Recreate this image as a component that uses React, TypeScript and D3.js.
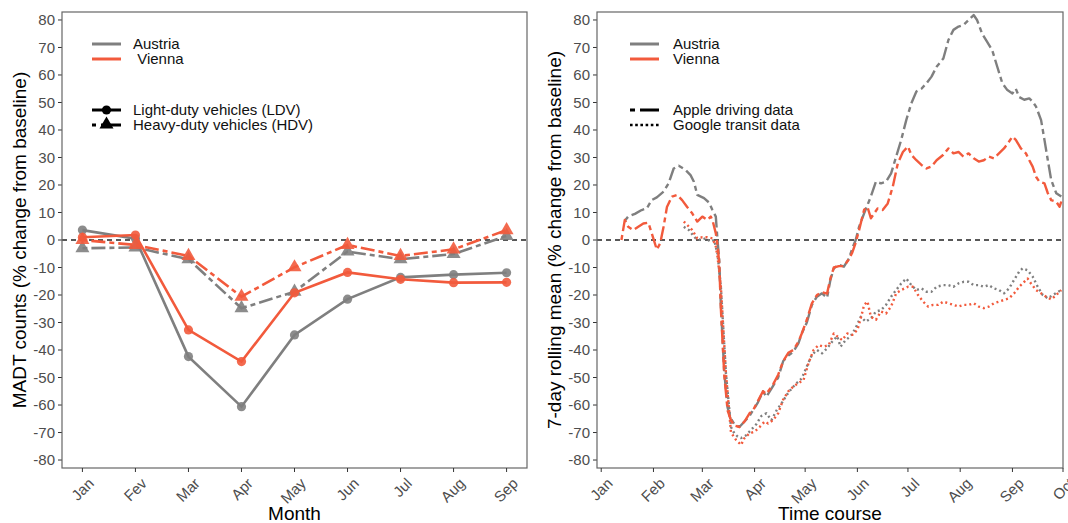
import React from "react";
import * as d3 from "d3";

// ---------- Data ----------
const MONTHS = ["Jan", "Fev", "Mar", "Apr", "May", "Jun", "Jul", "Aug", "Sep"];
const AT_LDV = [3.6, 0.5, -42.4, -60.6, -34.5, -21.5, -13.6, -12.6, -11.9];
const VI_LDV = [1.0, 1.8, -32.7, -44.2, -19.2, -11.8, -14.3, -15.5, -15.4];
const AT_HDV = [-3.0, -2.7, -7.0, -24.8, -18.8, -4.2, -7.0, -5.1, 1.5];
const VI_HDV = [0.0, -1.8, -5.8, -20.6, -9.9, -1.8, -5.8, -3.4, 3.6];

const Y_TICKS = [80, 70, 60, 50, 40, 30, 20, 10, 0, -10, -20, -30, -40, -50, -60, -70, -80];
const TIME_TICKS = ["2020-01-01", "2020-02-01", "2020-03-01", "2020-04-01", "2020-05-01", "2020-06-01", "2020-07-01", "2020-08-01", "2020-09-01", "2020-10-01"];
const TIME_LABELS = ["Jan", "Feb", "Mar", "Apr", "May", "Jun", "Jul", "Aug", "Sep", "Oct"];

type Pt = [string, number];

const AT_APPLE: Pt[] = [
  ["01-15", 7], ["01-17", 8.5], ["01-21", 9.5], ["01-25", 10.9], ["01-28", 11.5], ["01-31", 14.5], ["02-03", 15.5],
  ["02-07", 17.6], ["02-10", 20.6], ["02-13", 26], ["02-16", 27], ["02-20", 25.5], ["02-23", 23.6],
  ["02-25", 21.2], ["02-27", 16.4], ["03-02", 15.2], ["03-05", 13.6], ["03-07", 10.9], ["03-09", 8.5],
  ["03-10", 0], ["03-11", -7], ["03-12", -24], ["03-14", -48], ["03-16", -61], ["03-18", -65],
  ["03-20", -67], ["03-23", -68], ["03-26", -66], ["03-29", -64], ["03-31", -62], ["04-03", -59],
  ["04-06", -55], ["04-08", -57], ["04-12", -53], ["04-15", -50], ["04-18", -44], ["04-21", -42],
  ["04-24", -40.6], ["04-27", -37.6], ["04-29", -34], ["05-02", -30], ["05-05", -23.6], ["05-08", -20.6],
  ["05-11", -19.4], ["05-14", -21], ["05-16", -14.5], ["05-18", -10.3], ["05-21", -9], ["05-24", -9.7],
  ["05-27", -6.7], ["05-29", -3], ["05-31", 0], ["06-02", 4.8], ["06-05", 9.7], ["06-09", 15.8],
  ["06-12", 21.2], ["06-15", 20.6], ["06-18", 21.2], ["06-21", 24.2], ["06-24", 30.3], ["06-27", 36.4],
  ["06-30", 43.6], ["07-03", 49.7], ["07-06", 54], ["07-09", 55], ["07-12", 57], ["07-15", 59.4],
  ["07-18", 63], ["07-22", 66], ["07-25", 72.7], ["07-28", 76.4], ["07-31", 77.6], ["08-03", 78.2],
  ["08-06", 80], ["08-09", 81.8], ["08-11", 80], ["08-14", 75], ["08-17", 72], ["08-20", 69],
  ["08-23", 63], ["08-26", 57], ["08-29", 54.5], ["09-01", 53.3], ["09-03", 55], ["09-05", 52],
  ["09-08", 51], ["09-11", 51.5], ["09-13", 50.3], ["09-15", 48.5], ["09-18", 43.6], ["09-20", 36.4],
  ["09-22", 29], ["09-24", 21.8], ["09-27", 17], ["09-30", 15.8],
];

const VI_APPLE: Pt[] = [
  ["01-13", 0], ["01-15", 7.3], ["01-17", 4.8], ["01-20", 3.6], ["01-23", 4.8], ["01-26", 6], ["01-29", 6.3],
  ["01-31", 2.4], ["02-03", -3.5], ["02-05", -1.2], ["02-07", 4.8], ["02-09", 12], ["02-12", 15.8],
  ["02-15", 16.4], ["02-18", 14.5], ["02-21", 12], ["02-24", 9.7], ["02-27", 6.7], ["03-01", 8.5],
  ["03-04", 7.3], ["03-06", 8.5], ["03-07", 7.3], ["03-09", 2.4], ["03-10", -2], ["03-11", -8],
  ["03-12", -25], ["03-14", -49], ["03-16", -62], ["03-18", -65.5], ["03-20", -67.5], ["03-23", -68],
  ["03-26", -66], ["03-29", -63], ["03-31", -62], ["04-03", -58.5], ["04-06", -55], ["04-08", -56],
  ["04-12", -52.5], ["04-15", -49], ["04-18", -44], ["04-21", -41], ["04-24", -40], ["04-27", -37],
  ["04-29", -34], ["05-02", -29], ["05-05", -23], ["05-08", -20], ["05-11", -19], ["05-14", -19.5],
  ["05-16", -14], ["05-18", -10], ["05-21", -9.5], ["05-24", -9.5], ["05-27", -7], ["05-29", -4.5],
  ["05-31", -1], ["06-02", 3.6], ["06-05", 11], ["06-07", 12], ["06-09", 7.9], ["06-11", 9.7],
  ["06-13", 11.5], ["06-16", 10.9], ["06-19", 13.3], ["06-22", 19.4], ["06-25", 27.9], ["06-28", 32],
  ["07-01", 34], ["07-03", 31], ["07-06", 29], ["07-09", 27.3], ["07-12", 26], ["07-15", 26.7],
  ["07-18", 29], ["07-22", 31], ["07-25", 33.3], ["07-28", 31.5], ["07-31", 32], ["08-03", 30.3],
  ["08-06", 31.5], ["08-09", 29.7], ["08-12", 28.5], ["08-15", 29], ["08-18", 30.3], ["08-21", 29.7],
  ["08-24", 31.5], ["08-27", 33.3], ["08-30", 35.8], ["09-01", 37.6], ["09-03", 36.4], ["09-06", 33.3],
  ["09-09", 31.5], ["09-11", 29], ["09-13", 26.7], ["09-15", 23], ["09-17", 21.2], ["09-20", 20.6],
  ["09-22", 17], ["09-24", 14.5], ["09-27", 13.9], ["09-29", 12.1], ["09-30", 14],
];

const AT_GOOGLE: Pt[] = [
  ["02-19", 4.8], ["02-22", 3.6], ["02-26", 0.6], ["02-29", 0], ["03-03", 0.6], ["03-06", -0.6],
  ["03-08", 0], ["03-10", -5], ["03-12", -17], ["03-15", -48.5], ["03-18", -68], ["03-20", -70.3],
  ["03-22", -71.5], ["03-24", -72], ["03-27", -71], ["03-30", -69], ["04-02", -67], ["04-05", -64],
  ["04-08", -63], ["04-11", -65.5], ["04-14", -62], ["04-17", -59.4], ["04-20", -56.4], ["04-23", -54],
  ["04-26", -52], ["04-29", -50.3], ["05-02", -46], ["05-05", -41.8], ["05-08", -40], ["05-11", -41.2],
  ["05-14", -39.4], ["05-17", -37], ["05-20", -35], ["05-22", -38.8], ["05-25", -36.4], ["05-28", -35],
  ["05-31", -32], ["06-03", -27.9], ["06-06", -29.7], ["06-09", -28.5], ["06-12", -26], ["06-15", -25.5],
  ["06-18", -23.6], ["06-21", -20.6], ["06-24", -18.2], ["06-27", -15.8], ["06-30", -14], ["07-03", -16.4],
  ["07-06", -18.2], ["07-09", -17.6], ["07-12", -18.8], ["07-15", -18.8], ["07-18", -17], ["07-22", -16.4],
  ["07-25", -16.4], ["07-28", -17], ["07-31", -15.8], ["08-03", -15.2], ["08-06", -15.2], ["08-09", -16.4],
  ["08-12", -16.4], ["08-15", -17], ["08-18", -16.4], ["08-21", -17.6], ["08-24", -18.2], ["08-27", -19.4],
  ["08-30", -17.6], ["09-02", -14.5], ["09-05", -11.5], ["09-07", -10.3], ["09-10", -11], ["09-13", -13.3],
  ["09-16", -17], ["09-19", -20], ["09-22", -21.2], ["09-25", -20], ["09-30", -18.2],
];

const VI_GOOGLE: Pt[] = [
  ["02-19", 6.7], ["02-21", 5.5], ["02-24", 3.6], ["02-27", 0.6], ["03-01", 1], ["03-04", 1],
  ["03-07", 0.6], ["03-09", -2.4], ["03-10", -6], ["03-12", -17], ["03-15", -48.5], ["03-18", -70],
  ["03-21", -72.7], ["03-24", -74.5], ["03-26", -72], ["03-29", -70.3], ["04-01", -69.7], ["04-04", -68],
  ["04-07", -66], ["04-09", -66.7], ["04-12", -65.5], ["04-15", -63], ["04-18", -58], ["04-21", -55],
  ["04-24", -53.3], ["04-27", -52], ["04-30", -51], ["05-03", -44.8], ["05-06", -40], ["05-09", -38.2],
  ["05-12", -38.8], ["05-15", -38.2], ["05-18", -34], ["05-20", -35], ["05-23", -36.4], ["05-26", -34],
  ["05-29", -34.5], ["06-01", -32.7], ["06-03", -28.5], ["06-05", -23.6], ["06-07", -22.4], ["06-09", -27.9],
  ["06-12", -29], ["06-15", -26], ["06-18", -26.7], ["06-21", -24.2], ["06-24", -19.4], ["06-27", -18.2],
  ["07-01", -17], ["07-04", -17], ["07-07", -20], ["07-10", -22.4], ["07-13", -24.2], ["07-16", -23.6],
  ["07-19", -23.6], ["07-22", -22.4], ["07-25", -23], ["07-28", -23.6], ["07-31", -24.2], ["08-03", -23.6],
  ["08-06", -23.6], ["08-09", -23], ["08-12", -24.2], ["08-15", -24.8], ["08-18", -24.2], ["08-21", -23],
  ["08-24", -22.4], ["08-27", -21.8], ["08-30", -21.2], ["09-02", -19.4], ["09-05", -17], ["09-08", -15.2],
  ["09-10", -14], ["09-12", -15.8], ["09-15", -18.2], ["09-18", -19.4], ["09-21", -20.6], ["09-24", -21.6],
  ["09-27", -20], ["09-30", -18.2],
];

// ---------- Styles ----------
const GREY = "#7F7F7F";
const RED = "#F25A3C";
const TICK_COL = "#4D4D4D";
const FONT = "Liberation Sans, Arial, Helvetica, sans-serif";
const TWODASH = "5,4,14,4";
const DOTTED = "2,3";

const W = 1068;
const H = 523;
const PANEL_TOP = 12;
const PANEL_BOTTOM = 468;
const L = { x0: 62, x1: 527 };
const R = { x0: 597, x1: 1063 };

const parse = d3.timeParse("%Y-%m-%d");
const toDate = (md: string) => parse("2020-" + md) as Date;

function YAxis({ x0, x1, y }: { x0: number; x1: number; y: d3.ScaleLinear<number, number> }) {
  return (
    <g>
      {Y_TICKS.map((t) => (
        <g key={t}>
          <line x1={x0 - 4} x2={x0} y1={y(t)} y2={y(t)} stroke="#333" strokeWidth={1} />
          <text x={x0 - 7} y={y(t)} dy="0.35em" textAnchor="end" fontSize={15} fill={TICK_COL} fontFamily={FONT}>
            {t}
          </text>
        </g>
      ))}
      <line x1={x0} x2={x1} y1={y(0)} y2={y(0)} stroke="#222" strokeWidth={1.3} strokeDasharray="5,4" />
      <rect x={x0} y={PANEL_TOP} width={x1 - x0} height={PANEL_BOTTOM - PANEL_TOP} fill="none" stroke="#666" strokeWidth={1.2} />
    </g>
  );
}

function XTick({ x, label }: { x: number; label: string }) {
  return (
    <g>
      <line x1={x} x2={x} y1={PANEL_BOTTOM} y2={PANEL_BOTTOM + 4} stroke="#333" strokeWidth={1} />
      <text
        transform={`translate(${x + 5},${PANEL_BOTTOM + 9}) rotate(-45)`}
        textAnchor="end"
        dy="0.7em"
        fontSize={15}
        fill={TICK_COL}
        fontFamily={FONT}
      >
        {label}
      </text>
    </g>
  );
}

export default function App() {
  const y = d3.scaleLinear().domain([-82.9, 82.9]).range([PANEL_BOTTOM, PANEL_TOP]);

  // Left panel
  const xm = d3.scalePoint<string>().domain(MONTHS).range([L.x0, L.x1]).padding(0.385);
  const monthLine = d3
    .line<number>()
    .x((_, i) => xm(MONTHS[i]) as number)
    .y((v) => y(v));
  const tri = d3.symbol().type(d3.symbolTriangle).size(85)() as string;

  const leftSeries = [
    { vals: AT_LDV, color: GREY, dash: undefined, shape: "circle" },
    { vals: AT_HDV, color: GREY, dash: TWODASH, shape: "tri" },
    { vals: VI_LDV, color: RED, dash: undefined, shape: "circle" },
    { vals: VI_HDV, color: RED, dash: TWODASH, shape: "tri" },
  ];

  // Right panel
  const xt = d3
    .scaleTime()
    .domain([new Date(2019, 11, 29, 12), new Date(2020, 9, 1)])
    .range([R.x0, R.x1]);
  const timeLine = d3
    .line<Pt>()
    .x((d) => xt(toDate(d[0])))
    .y((d) => y(d[1]));

  const rightSeries = [
    { data: AT_APPLE, color: GREY, dash: TWODASH },
    { data: AT_GOOGLE, color: GREY, dash: DOTTED },
    { data: VI_APPLE, color: RED, dash: TWODASH },
    { data: VI_GOOGLE, color: RED, dash: DOTTED },
  ];

  const legendText = { fontSize: 15, fontFamily: FONT, fill: "#111" } as const;

  return (
    <svg width={W} height={H} style={{ position: "absolute", left: 0, top: 0, background: "#fff" }}>
      <rect x={0} y={0} width={W} height={H} fill="#fff" />

      {/* ---------- LEFT PANEL ---------- */}
      <YAxis x0={L.x0} x1={L.x1} y={y} />
      {MONTHS.map((m) => (
        <XTick key={m} x={xm(m) as number} label={m} />
      ))}
      {leftSeries.map((s, i) => (
        <g key={i}>
          <path d={monthLine(s.vals) as string} fill="none" stroke={s.color} strokeWidth={2.6} strokeDasharray={s.dash} />
          {s.vals.map((v, j) =>
            s.shape === "circle" ? (
              <circle key={j} cx={xm(MONTHS[j]) as number} cy={y(v)} r={4.6} fill={s.color} opacity={0.9} />
            ) : (
              <path key={j} d={tri} transform={`translate(${xm(MONTHS[j])},${y(v)})`} fill={s.color} opacity={0.9} />
            )
          )}
        </g>
      ))}
      <text x={(L.x0 + L.x1) / 2} y={520} textAnchor="middle" fontSize={19} fontFamily={FONT} fill="#000">
        Month
      </text>
      <text transform={`translate(26,${y(0)}) rotate(-90)`} textAnchor="middle" fontSize={19} fontFamily={FONT} fill="#000">
        MADT counts (% change from baseline)
      </text>

      {/* left legend */}
      <line x1={92} x2={121} y1={44} y2={44} stroke={GREY} strokeWidth={3} />
      <line x1={92} x2={121} y1={59} y2={59} stroke={RED} strokeWidth={3} />
      <text x={133} y={49} {...legendText}>Austria</text>
      <text x={133} y={64} {...legendText} style={{ whiteSpace: "pre" }}>{" Vienna"}</text>
      <line x1={92} x2={121} y1={110} y2={110} stroke="#000" strokeWidth={3} />
      <circle cx={106.5} cy={110} r={4.6} fill="#000" />
      <line x1={92} x2={121} y1={125} y2={125} stroke="#000" strokeWidth={3} strokeDasharray="4,5,20" />
      <path d={tri} transform="translate(106.5,124.5)" fill="#000" />
      <text x={133} y={115} {...legendText}>Light-duty vehicles (LDV)</text>
      <text x={133} y={130} {...legendText}>Heavy-duty vehicles (HDV)</text>

      {/* ---------- RIGHT PANEL ---------- */}
      <YAxis x0={R.x0} x1={R.x1} y={y} />
      {TIME_TICKS.map((t, i) => (
        <XTick key={t} x={xt(parse(t) as Date)} label={TIME_LABELS[i]} />
      ))}
      {rightSeries.map((s, i) => (
        <path key={i} d={timeLine(s.data) as string} fill="none" stroke={s.color} strokeWidth={2.4} strokeDasharray={s.dash} strokeLinejoin="round" />
      ))}
      <text x={(R.x0 + R.x1) / 2} y={520} textAnchor="middle" fontSize={19} fontFamily={FONT} fill="#000">
        Time course
      </text>
      <text transform={`translate(561,${y(0)}) rotate(-90)`} textAnchor="middle" fontSize={19} fontFamily={FONT} fill="#000">
        7-day rolling mean (% change from baseline)
      </text>

      {/* right legend */}
      <line x1={630} x2={659} y1={44} y2={44} stroke={GREY} strokeWidth={3} />
      <line x1={630} x2={659} y1={59} y2={59} stroke={RED} strokeWidth={3} />
      <text x={673} y={49} {...legendText}>Austria</text>
      <text x={673} y={64} {...legendText}>Vienna</text>
      <line x1={630} x2={659} y1={110} y2={110} stroke="#000" strokeWidth={3} strokeDasharray="5,5,19" />
      <line x1={630} x2={659} y1={125} y2={125} stroke="#000" strokeWidth={2.6} strokeDasharray="2.6,2.6" />
      <text x={673} y={115} {...legendText}>Apple driving data</text>
      <text x={673} y={130} {...legendText}>Google transit data</text>
    </svg>
  );
}
